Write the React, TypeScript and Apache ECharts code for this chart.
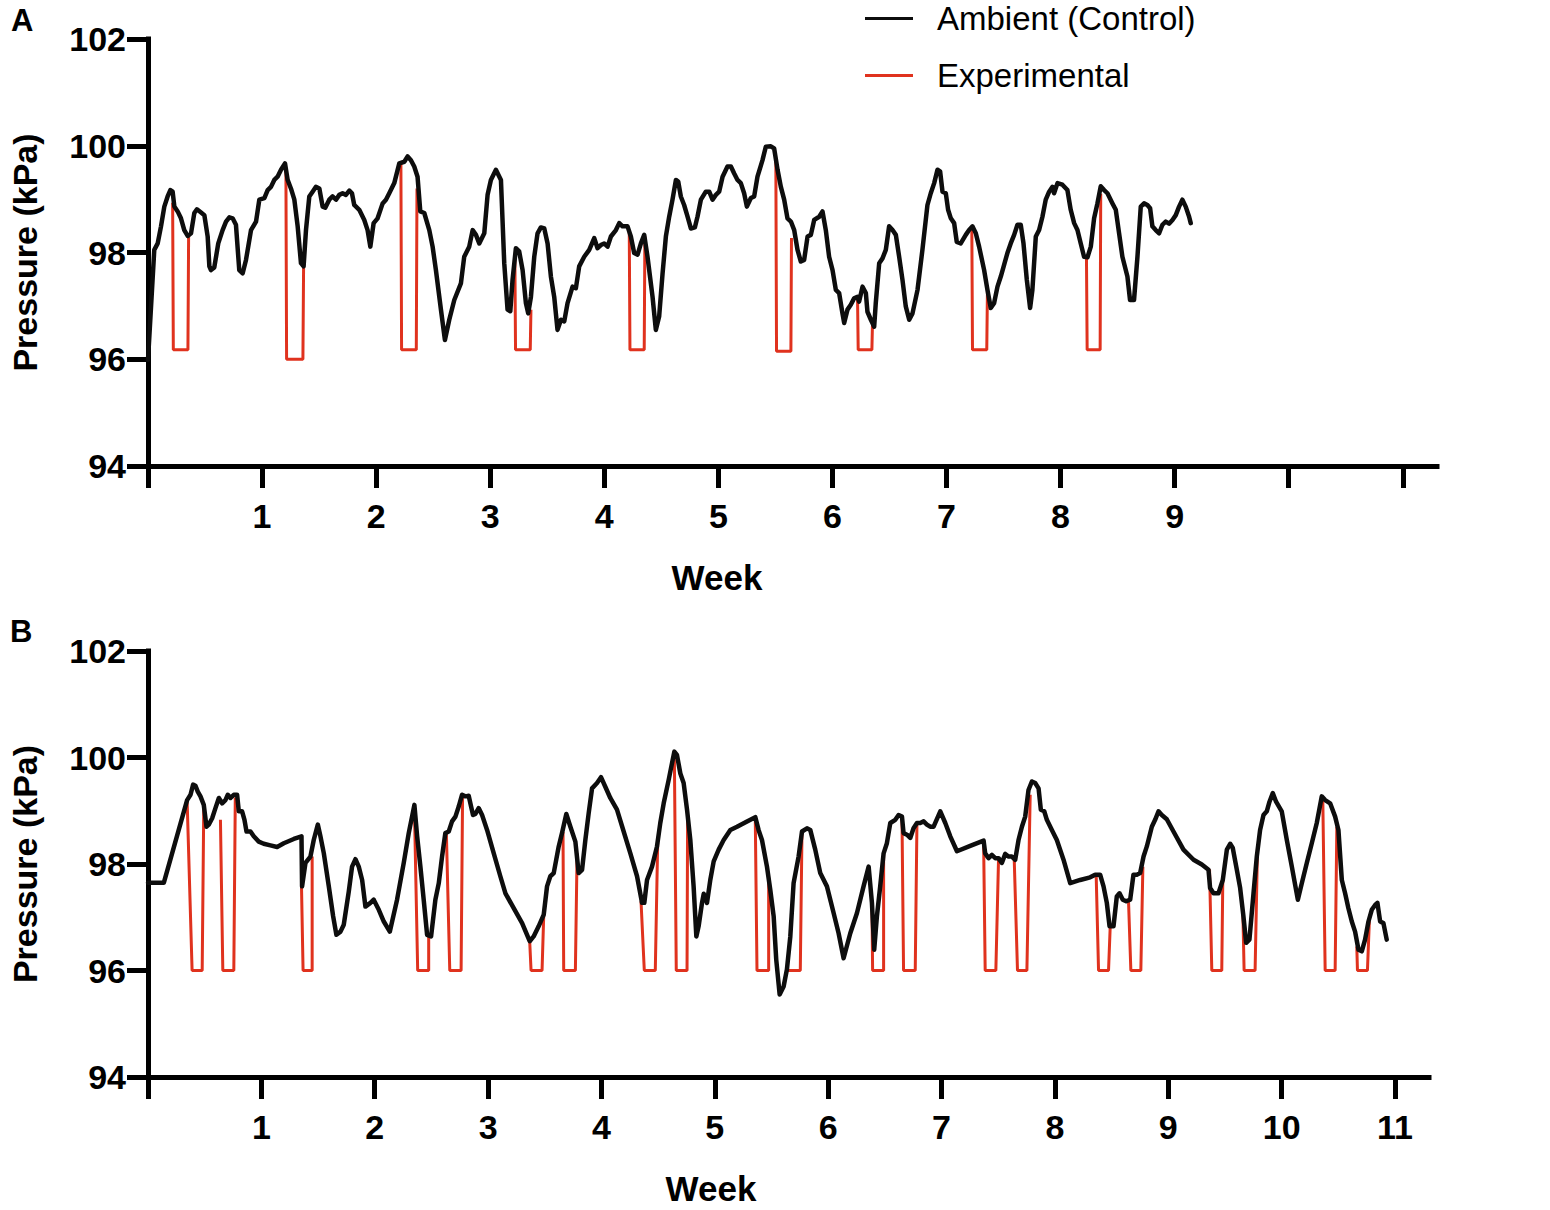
import React, { useEffect, useRef } from "react";
import * as echarts from "echarts";

const FONT = '"Liberation Sans", Arial, Helvetica, sans-serif';
const RED = "#e0321e";
const BLACK = "#0d0d0d";

const yTicks = [94, 96, 98, 100, 102];
const xTicks = [0, 1, 2, 3, 4, 5, 6, 7, 8, 9, 10, 11];
const xLabelsA = [1, 2, 3, 4, 5, 6, 7, 8, 9];
const xLabelsB = [1, 2, 3, 4, 5, 6, 7, 8, 9, 10, 11];
const seriesNames = ["Ambient (Control)", "Experimental"];

// Panel A – ambient (control) pressure, [week, kPa]
const ambientA = [
  [0, 95.99], [0.055, 98.05], [0.085, 98.17], [0.114, 98.49], [0.143, 98.86], [0.172, 99.05], [0.196, 99.17], [0.216, 99.14], [0.231, 98.86], [0.26, 98.77], [0.289, 98.64], [0.318, 98.42], [0.348, 98.31], [0.377, 98.36], [0.406, 98.74], [0.429, 98.81], [0.465, 98.75], [0.494, 98.7], [0.523, 98.3], [0.538, 97.74], [0.552, 97.67], [0.581, 97.72], [0.616, 98.17], [0.654, 98.42], [0.684, 98.58], [0.713, 98.66], [0.742, 98.64], [0.771, 98.52], [0.8, 97.67], [0.83, 97.61], [0.859, 97.86], [0.903, 98.42], [0.947, 98.58], [0.976, 98.99], [1.02, 99.02], [1.049, 99.17], [1.078, 99.23], [1.107, 99.36], [1.136, 99.42], [1.166, 99.55], [1.201, 99.67], [1.224, 99.36], [1.253, 99.2], [1.283, 98.99], [1.312, 98.49], [1.341, 97.8], [1.364, 97.74], [1.385, 98.42], [1.414, 99.05], [1.443, 99.14], [1.472, 99.23], [1.502, 99.2], [1.531, 98.86], [1.554, 98.84], [1.589, 98.99], [1.618, 99.05], [1.648, 98.99], [1.677, 99.08], [1.706, 99.11], [1.735, 99.08], [1.765, 99.16], [1.788, 99.11], [1.808, 98.89], [1.852, 98.8], [1.896, 98.61], [1.925, 98.42], [1.949, 98.11], [1.978, 98.55], [2.013, 98.64], [2.057, 98.92], [2.086, 98.99], [2.115, 99.11], [2.159, 99.3], [2.203, 99.67], [2.247, 99.7], [2.276, 99.8], [2.305, 99.73], [2.334, 99.61], [2.363, 99.42], [2.387, 98.77], [2.422, 98.74], [2.466, 98.42], [2.495, 98.11], [2.524, 97.67], [2.568, 96.93], [2.603, 96.36], [2.641, 96.74], [2.685, 97.11], [2.743, 97.42], [2.772, 97.92], [2.816, 98.11], [2.846, 98.42], [2.875, 98.33], [2.904, 98.17], [2.948, 98.36], [2.977, 99.08], [3.006, 99.36], [3.05, 99.55], [3.094, 99.36],
  [3.123, 97.8], [3.152, 96.93], [3.176, 96.9], [3.196, 97.49], [3.225, 98.08], [3.254, 98.02], [3.284, 97.67], [3.313, 97.05], [3.333, 96.86], [3.357, 97.17], [3.386, 97.92], [3.415, 98.36], [3.444, 98.47], [3.474, 98.45], [3.503, 98.17], [3.532, 97.55], [3.561, 97.17], [3.59, 96.55], [3.62, 96.74], [3.649, 96.71], [3.678, 97.05], [3.722, 97.36], [3.751, 97.33], [3.78, 97.74], [3.824, 97.92], [3.868, 98.05], [3.912, 98.27], [3.941, 98.08], [3.97, 98.14], [3.999, 98.17], [4.029, 98.11], [4.058, 98.3], [4.102, 98.42], [4.131, 98.55], [4.16, 98.49], [4.204, 98.49], [4.233, 98.3], [4.262, 97.99], [4.292, 97.96], [4.321, 98.17], [4.35, 98.33], [4.379, 97.92], [4.423, 97.17], [4.452, 96.55], [4.481, 96.8], [4.511, 97.61], [4.54, 98.3], [4.569, 98.67], [4.598, 98.99], [4.628, 99.36], [4.648, 99.33], [4.671, 99.05], [4.7, 98.89], [4.73, 98.67], [4.759, 98.45], [4.794, 98.47], [4.817, 98.67], [4.847, 98.99], [4.89, 99.14], [4.92, 99.14], [4.949, 98.99], [4.978, 99.08], [5.007, 99.14], [5.037, 99.42], [5.08, 99.61], [5.11, 99.61], [5.139, 99.48], [5.168, 99.36], [5.197, 99.3], [5.226, 99.11], [5.25, 98.86], [5.285, 99.02], [5.314, 99.05], [5.343, 99.42], [5.387, 99.73], [5.416, 99.98], [5.46, 99.99], [5.489, 99.95], [5.519, 99.55], [5.548, 99.23], [5.577, 98.99], [5.606, 98.64], [5.636, 98.58], [5.665, 98.42], [5.694, 98.05], [5.723, 97.83], [5.752, 97.86], [5.782, 98.3], [5.811, 98.33], [5.84, 98.61], [5.884, 98.67], [5.913, 98.77], [5.942, 98.42], [5.971, 97.92], [6.001, 97.67], [6.03, 97.3], [6.059, 97.24], [6.088, 96.86], [6.103, 96.68], [6.132, 96.93], [6.161, 97.02],
  [6.19, 97.14], [6.22, 97.17], [6.234, 97.08], [6.264, 97.36], [6.293, 97.24], [6.307, 96.89], [6.337, 96.74], [6.366, 96.61], [6.38, 97.05], [6.41, 97.8], [6.439, 97.89], [6.468, 98.05], [6.497, 98.49], [6.527, 98.42], [6.556, 98.33], [6.585, 97.92], [6.614, 97.49], [6.643, 96.99], [6.673, 96.74], [6.702, 96.86], [6.746, 97.3], [6.789, 98.05], [6.833, 98.89], [6.862, 99.11], [6.892, 99.3], [6.921, 99.55], [6.944, 99.52], [6.965, 99.14], [6.994, 99.11], [7.014, 98.8], [7.038, 98.64], [7.067, 98.55], [7.09, 98.2], [7.125, 98.17], [7.169, 98.33], [7.198, 98.42], [7.228, 98.49], [7.257, 98.36], [7.286, 98.11], [7.33, 97.67], [7.359, 97.3], [7.388, 96.96], [7.417, 97.05], [7.447, 97.36], [7.476, 97.55], [7.505, 97.77], [7.534, 97.99], [7.563, 98.17], [7.593, 98.33], [7.622, 98.52], [7.651, 98.52], [7.675, 98.17], [7.704, 97.49], [7.733, 96.96], [7.753, 97.3], [7.783, 98.3], [7.812, 98.42], [7.841, 98.67], [7.87, 98.99], [7.9, 99.14], [7.929, 99.23], [7.943, 99.11], [7.973, 99.3], [8.016, 99.27], [8.06, 99.17], [8.089, 98.8], [8.119, 98.55], [8.148, 98.42], [8.177, 98.17], [8.206, 97.92], [8.236, 97.91], [8.265, 98.11], [8.294, 98.64], [8.323, 98.92], [8.352, 99.24], [8.382, 99.17], [8.411, 99.11], [8.455, 98.92], [8.484, 98.8], [8.513, 98.36], [8.542, 97.92], [8.586, 97.55], [8.609, 97.11], [8.644, 97.11], [8.674, 97.92], [8.703, 98.86], [8.732, 98.92], [8.761, 98.89], [8.785, 98.83], [8.805, 98.49], [8.834, 98.42], [8.864, 98.36], [8.893, 98.52], [8.922, 98.58], [8.951, 98.54], [8.981, 98.61], [9.01, 98.7], [9.039, 98.86], [9.068, 98.99], [9.097, 98.86], [9.127, 98.67], [9.141, 98.55],
];

// Panel A – experimental chamber drops (visible parts), one array per exposure
const experimentalA = [
  [[0.216, 98.93], [0.222, 96.18], [0.35, 96.18], [0.356, 98.31]],
  [[1.209, 99.55], [1.215, 96.0], [1.358, 96.0], [1.364, 97.74]],
  [[2.217, 99.67], [2.223, 96.18], [2.352, 96.18], [2.358, 99.2]],
  [[3.216, 97.95], [3.222, 96.18], [3.351, 96.18], [3.357, 96.93]],
  [[4.219, 98.42], [4.225, 96.18], [4.35, 96.18], [4.356, 98.3]],
  [[5.504, 99.73], [5.51, 96.15], [5.636, 96.15], [5.641, 98.27]],
  [[6.22, 97.17], [6.226, 96.18], [6.346, 96.18], [6.351, 96.65]],
  [[7.222, 98.45], [7.228, 96.18], [7.353, 96.18], [7.359, 97.3]],
  [[8.227, 97.92], [8.233, 96.18], [8.347, 96.18], [8.352, 99.1]],
];

// Panel B – ambient (control) pressure, [week, kPa]
const ambientB = [
  [0, 97.65], [0.14, 97.65], [0.345, 99.2], [0.375, 99.3], [0.398, 99.49], [0.419, 99.47], [0.439, 99.36], [0.463, 99.27], [0.492, 99.11], [0.516, 98.7], [0.536, 98.74], [0.566, 98.86], [0.595, 99.05], [0.625, 99.24], [0.654, 99.14], [0.683, 99.2], [0.704, 99.3], [0.728, 99.24], [0.757, 99.3], [0.786, 99.3], [0.801, 98.99], [0.83, 98.99], [0.851, 98.83], [0.869, 98.61], [0.904, 98.61], [0.933, 98.52], [0.977, 98.42], [1.021, 98.38], [1.08, 98.35], [1.139, 98.32], [1.198, 98.39], [1.286, 98.47], [1.354, 98.52], [1.359, 97.58], [1.389, 98.02], [1.433, 98.14], [1.462, 98.45], [1.498, 98.74], [1.521, 98.52], [1.551, 98.2], [1.595, 97.58], [1.633, 97.02], [1.662, 96.67], [1.698, 96.73], [1.727, 96.86], [1.771, 97.48], [1.8, 97.95], [1.83, 98.09], [1.859, 97.95], [1.889, 97.7], [1.918, 97.2], [1.962, 97.27], [1.991, 97.33], [2.036, 97.14], [2.08, 96.92], [2.133, 96.73], [2.197, 97.33], [2.256, 98.02], [2.3, 98.58], [2.35, 99.11], [2.374, 98.52], [2.403, 97.95], [2.432, 97.33], [2.462, 96.67], [2.497, 96.64], [2.535, 97.33], [2.565, 97.64], [2.594, 98.14], [2.623, 98.58], [2.653, 98.61], [2.682, 98.8], [2.712, 98.89], [2.741, 99.08], [2.77, 99.3], [2.8, 99.27], [2.829, 99.28], [2.85, 99.08], [2.867, 98.92], [2.888, 98.94], [2.917, 99.05], [2.947, 98.92], [2.991, 98.64], [3.05, 98.2], [3.108, 97.77], [3.153, 97.45], [3.226, 97.17], [3.3, 96.89], [3.367, 96.55], [3.402, 96.64], [3.446, 96.83], [3.491, 97.05], [3.52, 97.58], [3.549, 97.77], [3.579, 97.83], [3.623, 98.33], [3.652, 98.58], [3.69, 98.94], [3.726, 98.7], [3.77, 98.42], [3.799, 97.83],
  [3.829, 97.89], [3.858, 98.45], [3.887, 98.95], [3.917, 99.42], [3.961, 99.52], [3.996, 99.63], [4.034, 99.45], [4.078, 99.24], [4.137, 99.02], [4.196, 98.61], [4.255, 98.2], [4.314, 97.77], [4.358, 97.27], [4.378, 97.27], [4.402, 97.7], [4.446, 97.95], [4.49, 98.33], [4.519, 98.77], [4.549, 99.14], [4.593, 99.58], [4.622, 99.89], [4.643, 100.11], [4.666, 100.05], [4.696, 99.7], [4.725, 99.52], [4.755, 99.02], [4.784, 98.45], [4.813, 97.58], [4.837, 96.64], [4.857, 96.83], [4.887, 97.27], [4.902, 97.44], [4.931, 97.27], [4.96, 97.7], [4.99, 98.05], [5.034, 98.27], [5.078, 98.45], [5.137, 98.64], [5.196, 98.7], [5.284, 98.8], [5.357, 98.88], [5.386, 98.64], [5.416, 98.45], [5.46, 97.95], [5.489, 97.52], [5.519, 97.02], [5.542, 96.2], [5.572, 95.55], [5.607, 95.7], [5.636, 96.02], [5.666, 96.64], [5.695, 97.64], [5.739, 98.14], [5.769, 98.61], [5.813, 98.67], [5.842, 98.64], [5.886, 98.27], [5.93, 97.83], [5.989, 97.58], [6.048, 97.08], [6.092, 96.7], [6.136, 96.23], [6.195, 96.7], [6.254, 97.08], [6.312, 97.58], [6.357, 97.95], [6.386, 97.27], [6.406, 96.39], [6.43, 97.02], [6.459, 97.58], [6.489, 98.2], [6.518, 98.39], [6.548, 98.77], [6.592, 98.83], [6.621, 98.92], [6.651, 98.89], [6.665, 98.58], [6.695, 98.55], [6.724, 98.49], [6.753, 98.67], [6.783, 98.77], [6.812, 98.77], [6.842, 98.8], [6.871, 98.74], [6.9, 98.7], [6.93, 98.7], [6.989, 98.99], [7.033, 98.77], [7.077, 98.52], [7.136, 98.24], [7.253, 98.34], [7.371, 98.44], [7.385, 98.2], [7.415, 98.11], [7.444, 98.17], [7.474, 98.11], [7.503, 98.11], [7.532, 98.02], [7.562, 98.19], [7.591, 98.14],
  [7.62, 98.14], [7.65, 98.08], [7.679, 98.45], [7.709, 98.7], [7.738, 98.89], [7.767, 99.39], [7.797, 99.55], [7.826, 99.52], [7.856, 99.42], [7.876, 99.02], [7.906, 98.99], [7.929, 98.83], [7.973, 98.64], [8.017, 98.45], [8.076, 98.08], [8.135, 97.64], [8.223, 97.7], [8.311, 97.75], [8.355, 97.8], [8.399, 97.8], [8.429, 97.58], [8.458, 97.27], [8.482, 96.83], [8.517, 96.83], [8.546, 97.39], [8.57, 97.45], [8.599, 97.33], [8.629, 97.3], [8.664, 97.33], [8.693, 97.8], [8.723, 97.8], [8.752, 97.83], [8.782, 98.14], [8.811, 98.33], [8.855, 98.7], [8.884, 98.83], [8.914, 98.99], [8.943, 98.92], [8.987, 98.84], [9.046, 98.61], [9.134, 98.27], [9.223, 98.08], [9.296, 97.99], [9.355, 97.89], [9.369, 97.55], [9.399, 97.45], [9.443, 97.45], [9.481, 97.7], [9.517, 98.27], [9.546, 98.38], [9.569, 98.3], [9.605, 97.89], [9.634, 97.55], [9.663, 97.02], [9.687, 96.52], [9.716, 96.58], [9.752, 97.45], [9.781, 98.14], [9.81, 98.64], [9.84, 98.92], [9.869, 98.99], [9.893, 99.17], [9.922, 99.33], [9.951, 99.17], [10.001, 98.99], [10.046, 98.45], [10.09, 97.95], [10.143, 97.33], [10.178, 97.64], [10.222, 98.02], [10.266, 98.39], [10.31, 98.77], [10.354, 99.27], [10.384, 99.2], [10.428, 99.14], [10.472, 98.89], [10.501, 98.64], [10.531, 97.7], [10.56, 97.45], [10.589, 97.17], [10.619, 96.92], [10.648, 96.73], [10.678, 96.39], [10.707, 96.36], [10.736, 96.58], [10.766, 96.92], [10.795, 97.14], [10.825, 97.23], [10.845, 97.27], [10.869, 96.92], [10.898, 96.89], [10.927, 96.58],
];

// Panel B – experimental chamber drops (visible parts)
const experimentalB = [
  [[0.345, 99.2], [0.389, 96.0], [0.478, 96.0], [0.492, 99.11]],
  [[0.639, 98.83], [0.66, 96.0], [0.757, 96.0], [0.77, 99.25]],
  [[1.354, 97.58], [1.368, 96.0], [1.448, 96.0], [1.448, 98.14]],
  [[2.35, 99.05], [2.379, 96.0], [2.476, 96.0], [2.476, 96.64]],
  [[2.632, 98.58], [2.662, 96.0], [2.762, 96.0], [2.775, 99.3]],
  [[3.367, 96.55], [3.379, 96.0], [3.476, 96.0], [3.491, 97.05]],
  [[3.661, 98.6], [3.667, 96.0], [3.77, 96.0], [3.785, 98.2]],
  [[4.349, 97.3], [4.378, 96.0], [4.475, 96.0], [4.496, 98.4]],
  [[4.643, 100.05], [4.66, 96.0], [4.755, 96.0], [4.76, 98.9]],
  [[5.357, 98.86], [5.372, 96.0], [5.475, 96.0], [5.475, 97.75]],
  [[5.636, 96.02], [5.651, 96.0], [5.754, 96.0], [5.769, 98.61]],
  [[6.386, 97.3], [6.392, 96.0], [6.489, 96.0], [6.489, 98.2]],
  [[6.651, 98.89], [6.665, 96.0], [6.768, 96.0], [6.783, 98.77]],
  [[7.371, 98.44], [7.385, 96.0], [7.479, 96.0], [7.503, 98.11]],
  [[7.641, 98.1], [7.67, 96.0], [7.753, 96.0], [7.782, 99.3]],
  [[8.364, 97.8], [8.385, 96.0], [8.473, 96.0], [8.488, 96.83]],
  [[8.649, 97.33], [8.67, 96.0], [8.758, 96.0], [8.776, 97.95]],
  [[9.364, 97.9], [9.384, 96.0], [9.472, 96.0], [9.481, 97.7]],
  [[9.658, 97.1], [9.669, 96.0], [9.766, 96.0], [9.787, 98.3]],
  [[10.363, 99.25], [10.384, 96.0], [10.472, 96.0], [10.487, 98.7]],
  [[10.663, 96.45], [10.669, 96.0], [10.757, 96.0], [10.775, 97.0]],
];

function joinDips(dips: number[][][]) {
  const out: any[] = [];
  dips.forEach((d, i) => {
    if (i > 0) out.push([d[0][0], "-"]);
    d.forEach((p) => out.push(p));
  });
  return out;
}

const AXIS_W = 5;
const TICK_FONT = 34;

function makeXAxis(gridIndex: number, labels: number[]) {
  return {
    type: "value",
    gridIndex,
    min: 0,
    max: 11.3,
    axisLine: { show: true, onZero: false, lineStyle: { color: "#000", width: AXIS_W, cap: "square" } },
    axisTick: { show: true, length: 22, customValues: xTicks, lineStyle: { color: "#000", width: AXIS_W } },
    axisLabel: {
      customValues: labels,
      margin: 33,
      fontSize: TICK_FONT,
      fontWeight: "bold",
      color: "#000",
      fontFamily: FONT,
    },
    splitLine: { show: false },
  };
}

function makeYAxis(gridIndex: number) {
  return {
    type: "value",
    gridIndex,
    min: yTicks[0],
    max: yTicks[yTicks.length - 1],
    interval: 2,
    name: "Pressure (kPa)",
    nameLocation: "middle",
    nameGap: 106,
    nameTextStyle: { fontSize: 34, fontWeight: "bold", color: "#000", fontFamily: FONT },
    axisLine: { show: true, lineStyle: { color: "#000", width: AXIS_W, cap: "square" } },
    axisTick: { show: true, length: 21, lineStyle: { color: "#000", width: AXIS_W } },
    axisLabel: { margin: 22, fontSize: TICK_FONT, fontWeight: "bold", color: "#000", fontFamily: FONT },
    splitLine: { show: false },
  };
}

export default function App() {
  const ref = useRef<HTMLDivElement>(null);
  useEffect(() => {
    if (!ref.current) return;
    const chart = echarts.init(ref.current, undefined, { renderer: "svg" });
    const option: any = {
      animation: false,
      backgroundColor: "#fff",
      textStyle: { fontFamily: FONT },
      grid: [
        { left: 147, top: 39, width: 1290, height: 427, containLabel: false },
        { left: 148, top: 651, width: 1281, height: 426, containLabel: false },
      ],
      xAxis: [makeXAxis(0, xLabelsA), makeXAxis(1, xLabelsB)],
      yAxis: [makeYAxis(0), makeYAxis(1)],
      legend: {
        data: [
          { name: seriesNames[0], icon: "rect" },
          { name: seriesNames[1], icon: "rect" },
        ],
        orient: "vertical",
        left: 865,
        top: 2,
        padding: 0,
        itemWidth: 48,
        itemHeight: 3,
        itemGap: 24,
        selectedMode: false,
        textStyle: { fontSize: 33, color: "#000", fontFamily: FONT, padding: [0, 0, 0, 19] },
      },
      graphic: [
        { type: "text", left: 11, top: 5, style: { text: "A", fontSize: 31, fontWeight: "bold", fill: "#000", fontFamily: FONT } },
        { type: "text", left: 10, top: 616, style: { text: "B", fontSize: 31, fontWeight: "bold", fill: "#000", fontFamily: FONT } },
        { type: "text", x: 717, y: 577, style: { text: "Week", fontSize: 35, fontWeight: "bold", fill: "#000", fontFamily: FONT, align: "center", verticalAlign: "middle" } },
        { type: "text", x: 711, y: 1188, style: { text: "Week", fontSize: 35, fontWeight: "bold", fill: "#000", fontFamily: FONT, align: "center", verticalAlign: "middle" } },
      ],
      series: [
        {
          name: seriesNames[1], type: "line", xAxisIndex: 0, yAxisIndex: 0, data: joinDips(experimentalA),
          symbol: "none", showSymbol: false, connectNulls: false, z: 2,
          lineStyle: { color: RED, width: 3 }, itemStyle: { color: RED },
        },
        {
          name: seriesNames[0], type: "line", xAxisIndex: 0, yAxisIndex: 0, data: ambientA,
          symbol: "none", showSymbol: false, z: 3,
          lineStyle: { color: BLACK, width: 4.5, join: "round", cap: "round" }, itemStyle: { color: BLACK },
        },
        {
          name: seriesNames[1], type: "line", xAxisIndex: 1, yAxisIndex: 1, data: joinDips(experimentalB),
          symbol: "none", showSymbol: false, connectNulls: false, z: 2,
          lineStyle: { color: RED, width: 3 }, itemStyle: { color: RED },
        },
        {
          name: seriesNames[0], type: "line", xAxisIndex: 1, yAxisIndex: 1, data: ambientB,
          symbol: "none", showSymbol: false, z: 3,
          lineStyle: { color: BLACK, width: 4.5, join: "round", cap: "round" }, itemStyle: { color: BLACK },
        },
      ],
    };
    chart.setOption(option);
    return () => chart.dispose();
  }, []);
  return (
    <div
      ref={ref}
      style={{ position: "absolute", left: 0, top: 0, width: 1550, height: 1210, background: "#fff" }}
    />
  );
}
